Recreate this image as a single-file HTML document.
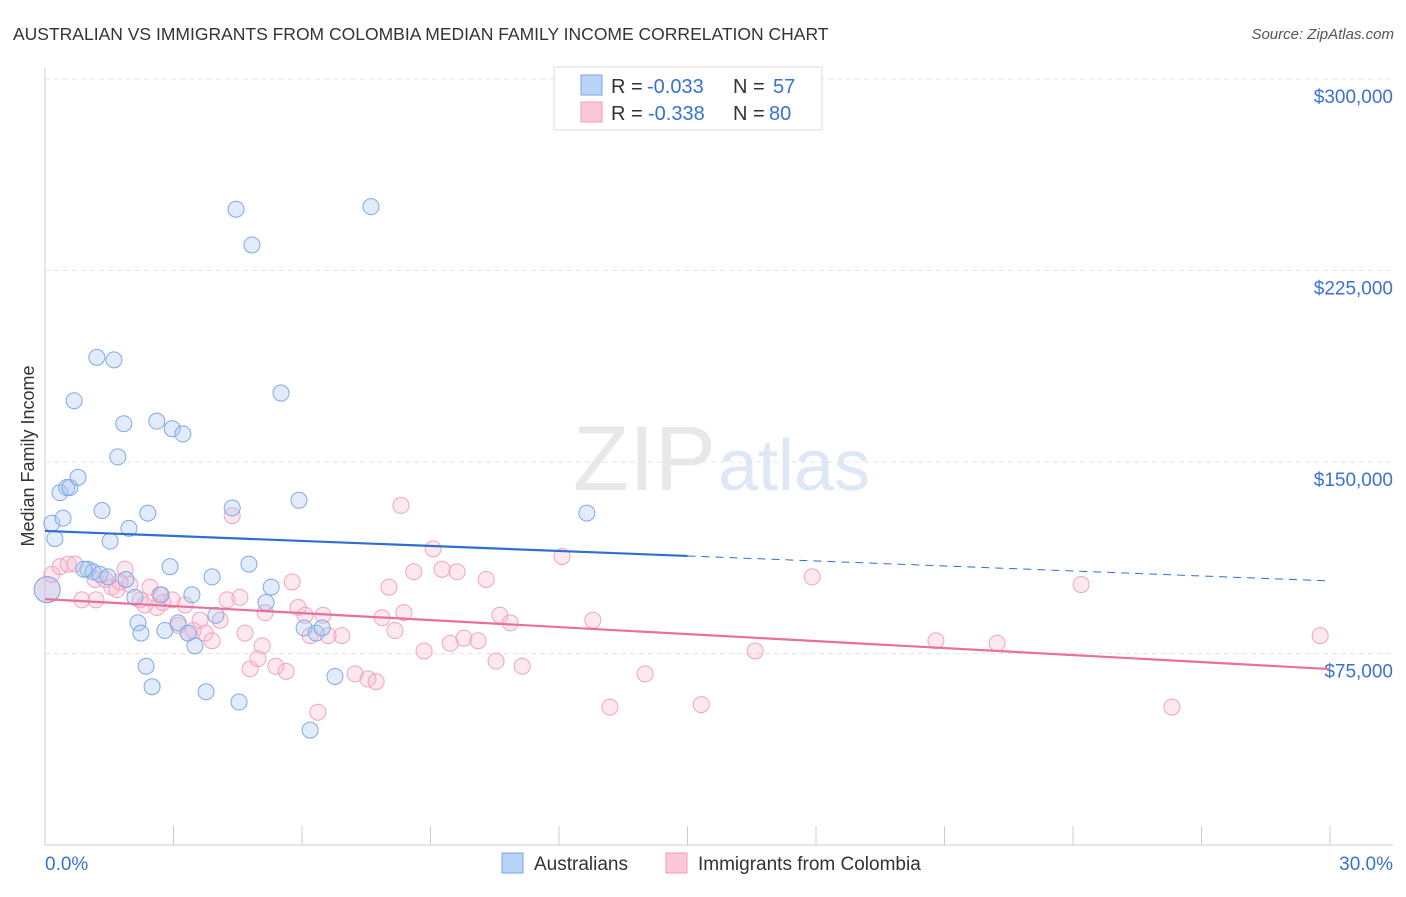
<!DOCTYPE html>
<html><head><meta charset="utf-8"><style>
body{margin:0;background:#fff;font-family:"Liberation Sans",sans-serif}
svg text{font-family:"Liberation Sans",sans-serif}
</style></head><body>
<svg id="c" width="1406" height="892">
<text x="13" y="40" font-size="17.5" fill="#333">AUSTRALIAN VS IMMIGRANTS FROM COLOMBIA MEDIAN FAMILY INCOME CORRELATION CHART</text>
<text x="1394" y="39" font-size="15" fill="#555" font-style="italic" text-anchor="end">Source: ZipAtlas.com</text>
<text x="716" y="490" font-size="92" fill="#e8e8e8" font-family="Liberation Serif" text-anchor="end">ZIP</text>
<text x="718" y="490" font-size="72" fill="#dde7f6">atlas</text>
<text x="34" y="456" font-size="18" fill="#333" text-anchor="middle" transform="rotate(-90 34 456)">Median Family Income</text>
<g id="grid"></g><g id="pts"></g><g id="lines"></g>
<g>
<rect x="554" y="67" width="268" height="63" fill="#fff" stroke="#ddd"/>
<rect x="581" y="75" width="21" height="20" fill="#b8d3f5" stroke="#7aa6e6"/>
<rect x="581" y="102" width="21" height="20" fill="#fcc8d7" stroke="#f09ab5"/>
<text x="611" y="93" font-size="20" fill="#333">R =</text>
<text x="647" y="93" font-size="20" fill="#3a72d0">-0.033</text>
<text x="733" y="93" font-size="20" fill="#333">N =</text>
<text x="773" y="93" font-size="20" fill="#3a72d0">57</text>
<text x="611" y="120" font-size="20" fill="#333">R =</text>
<text x="648" y="120" font-size="20" fill="#3a72d0">-0.338</text>
<text x="733" y="120" font-size="20" fill="#333">N =</text>
<text x="769" y="120" font-size="20" fill="#3a72d0">80</text>
</g>
<g>
<rect x="502" y="853" width="21" height="20" fill="#b8d3f5" stroke="#7aa6e6"/>
<text x="534" y="870" font-size="19" fill="#333">Australians</text>
<rect x="666" y="853" width="21" height="20" fill="#fcc8d7" stroke="#f09ab5"/>
<text x="698" y="870" font-size="19" fill="#333">Immigrants from Colombia</text>
</g>
<text x="45" y="870" font-size="19" fill="#3a72d0">0.0%</text>
<text x="1393" y="870" font-size="19" fill="#3a72d0" text-anchor="end">30.0%</text>
</svg>
<script>
const yTicks=[75000,150000,225000,300000];
const yTickLabels=["$75,000","$150,000","$225,000","$300,000"];
const xTicks=[0,3,6,9,12,15,18,21,24,27,30];
const blueX=[0.05,0.16,0.23,0.42,0.35,0.51,0.58,0.68,0.77,1.0,1.21,1.61,1.33,1.52,1.70,1.84,1.96,1.89,2.10,2.17,2.24,2.36,2.50,2.40,2.61,2.71,2.80,2.97,2.92,3.11,3.22,3.34,3.43,3.50,3.76,3.90,3.99,4.37,4.46,4.53,4.76,4.83,5.16,5.28,5.51,5.93,6.05,6.19,6.33,6.47,6.77,7.61,12.65,1.12,0.91,1.28,1.47];
const blueY=[100,126,120,128,138,140,140,174,144,108,191,190,131,119,152,165,124,104,97,87,83,70,62,130,166,98,84,163,109,87,161,83,98,78,60,105,90,132,249,56,110,235,95,101,177,135,85,45,83,85,66,250,130,107,108,106,105];
const pinkX=[0.05,0.16,0.35,0.54,0.70,0.86,1.17,1.40,1.56,1.68,1.87,1.98,2.22,2.33,2.45,2.61,2.75,2.97,3.11,3.27,3.34,3.46,3.62,3.74,3.90,4.09,4.25,4.37,4.55,4.67,4.79,4.97,5.07,5.14,5.39,5.63,5.77,5.91,6.07,6.19,6.37,6.49,6.61,6.93,7.24,7.54,7.73,7.87,8.03,8.17,8.31,8.38,8.61,8.85,9.06,9.27,9.46,9.62,9.78,10.11,10.30,10.53,10.62,10.86,11.14,12.07,12.79,13.19,14.01,15.32,16.58,17.91,20.80,22.23,24.19,26.31,29.77,1.75,2.68,1.19];
const pinkY=[100,106,109,110,110,96,104,104,101,100,108,102,96,94,101,93,95,96,86,94,83,84,88,83,80,88,96,129,97,83,69,73,78,91,70,68,103,93,90,82,52,90,82,82,67,65,64,89,101,84,133,91,107,76,116,108,79,107,81,80,104,72,90,87,70,113,88,54,67,55,76,105,80,79,102,54,82,103,98,96];
const blueTrend=[123,103.4];
const pinkTrend=[96.3,68.9];
const X=v=>45+v/30*1285;
const Y=k=>845-k*1000/300000*766;
const NS="http://www.w3.org/2000/svg";
function mk(t,a,p){const e=document.createElementNS(NS,t);for(const k in a)e.setAttribute(k,a[k]);p.appendChild(e);return e;}
const grid=document.getElementById('grid');
mk('line',{x1:45,y1:845,x2:1393,y2:845,stroke:'#ccc'},grid);
mk('line',{x1:45,y1:68,x2:45,y2:845,stroke:'#ccc'},grid);
yTicks.forEach((v,i)=>{
 const g=mk('line',{x1:45,y1:Y(v/1000),x2:1393,y2:Y(v/1000),stroke:'#e4e4e4','stroke-dasharray':'5,4'},grid);
 
 
 const t=mk('text',{x:1393,y:Y(v/1000)+24,'font-size':19,fill:'#3a72d0','text-anchor':'end'},grid);
 t.textContent=yTickLabels[i];
 
 
});
xTicks.forEach(v=>{
 const l=mk('line',{x1:X(v),y1:826,x2:X(v),y2:845,stroke:'#ccc'},grid);
 
 
});
const pts=document.getElementById('pts');
function dots(xs,ys,fill,stroke,name){xs.forEach((x,i)=>{
 const r=i==0?13:8;
 const c=mk('circle',{cx:X(x),cy:Y(ys[i]),r:r,fill:fill,stroke:stroke,'stroke-width':1},pts);
 
 
});}
dots(pinkX,pinkY,'rgba(248,180,202,0.3)','#f0a5bf','colombia-point');
dots(blueX,blueY,'rgba(170,198,240,0.35)','#80a9e6','australian-point');
const L=document.getElementById('lines');
const bm=blueTrend[0]+(blueTrend[1]-blueTrend[0])*0.5;
const b1=mk('line',{x1:X(0),y1:Y(blueTrend[0]),x2:X(15),y2:Y(bm),stroke:'#2f6fd0','stroke-width':2.2},L);


const b2=mk('line',{x1:X(15),y1:Y(bm),x2:X(30),y2:Y(blueTrend[1]),stroke:'#2f6fd0','stroke-width':1,'stroke-dasharray':'8,6'},L);


const p1=mk('line',{x1:X(0),y1:Y(pinkTrend[0]),x2:X(30),y2:Y(pinkTrend[1]),stroke:'#e8709a','stroke-width':2.2},L);


</script>
</body></html>
